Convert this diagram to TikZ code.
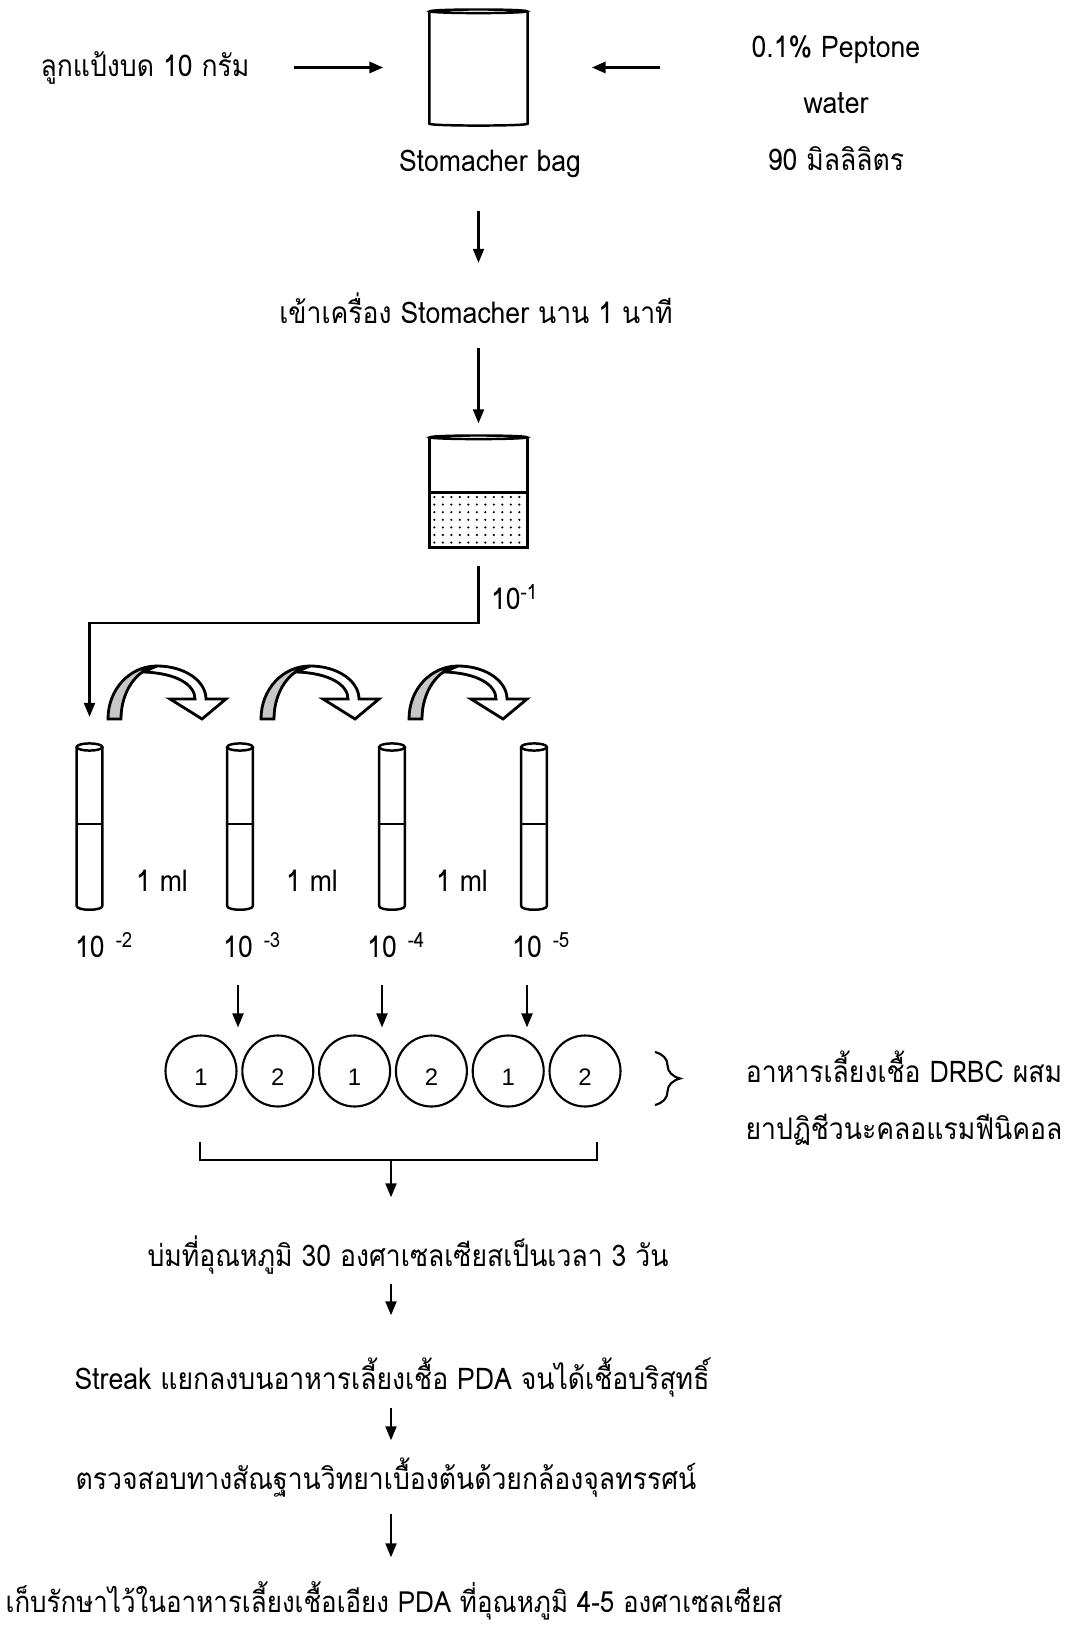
\documentclass[tikz,border=0pt]{standalone}
\usepackage{fontspec}
\setmainfont{Loma}[Script=Thai, FakeStretch=0.89]
\newfontfamily\digitfont{Liberation Sans}
\usetikzlibrary{arrows.meta, calc, decorations.pathreplacing}

\tikzset{
    % test tube, origin at the centre of the rim
    tube/.pic={
        \draw[line width=0.7pt] (-12.8,0) -- (-12.8,159) .. controls +(0,5) and +(0,5) .. (12.8,159) -- (12.8,0);
        \draw[line width=0.7pt] (0,0) ellipse [x radius=12.8, y radius=3.6];
        \draw[line width=0.6pt] (-12.8,77) -- (12.8,77);
        \coordinate (-top) at (0,-3.6);
    },
    % bent transfer arrow, origin at the foot of the arc
    transfer/.pic={
        \filldraw[fill=white, line width=0.8pt, line join=miter]
            (0,-53) .. controls (27.6,-53) and (49,-38) .. (49,-20) -- (69,-20) -- (45,0) -- (13,-20) -- (38,-20)
            .. controls (38,-34) and (20,-46) .. (-14,-47) -- cycle;
        \filldraw[fill=black!22, line width=0.8pt]
            (-49,0) .. controls (-49,-30) and (-27,-53) .. (0,-53)
            .. controls (-20,-50) and (-36,-28) .. (-36,0) -- cycle;
    }
}

\begin{document}
\begin{tikzpicture}[
    x=0.1mm, y=-0.1mm,
    font=\fontsize{8.5}{16}\selectfont,
    txt/.style={inner sep=0pt, text height=1.5mm, text depth=0.4mm},
    multi/.style={inner sep=0pt, align=center},
    arr/.style={-{Triangle[length=1.4mm, width=1.1mm]}, line width=0.6pt},
    outline/.style={line width=0.7pt},
    dish/.style={circle, draw, line width=0.6pt, minimum size=7.1mm, inner sep=0pt,
        text height=2.9mm, text depth=0pt, font=\digitfont\fontsize{6.8}{8}\selectfont}
]
\useasboundingbox (0,0) rectangle (1079,1625);

% ---- mixing step
\node[txt] (seed) at (145,71) {ลูกแป้งบด 10 กรัม};
\node[inner sep=0pt, minimum width=9.7mm, minimum height=11.1mm] (bag) at (478.5,67.5) {};
\draw[outline] (bag.north west) -- (bag.south west) .. controls +(0,2.5) and +(0,2.5) .. (bag.south east) -- (bag.north east);
\draw[outline] (bag.north) ellipse [x radius=48.5, y radius=1.8];
\node[multi] (pep) at (836,103) {0.1\% Peptone\\ water\\ 90 มิลลิลิตร};
\node[txt] (baglbl) at (490,166) {Stomacher bag};

\draw[arr, line width=0.9pt, shorten <=4.4mm, shorten >=4.6mm] (seed.east |- bag) -- (bag.west);
\draw[arr, line width=0.9pt, shorten <=9.1mm, shorten >=6.4mm] (pep.west |- bag) -- (bag.east);

\node[txt] (mix) at (476,318) {เข้าเครื่อง Stomacher นาน 1 นาที};
\draw[arr, shorten <=3.5mm, shorten >=4.5mm] (bag |- baglbl.south) -- (bag |- mix.north);

% ---- homogenate, 10^-1
\node[inner sep=0pt, minimum width=9.7mm, minimum height=10.9mm] (beaker) at (478.5,492.5) {};
\draw[arr, shorten <=1.95mm, shorten >=1.4mm] (bag |- mix.south) -- (beaker.north);
\foreach \r in {0,...,6}
    \foreach \c in {0,...,10}
        \fill (434.3+8.5*\c, 497+7.6*\r) circle [radius=1.2];
\draw[outline] (beaker.north west) -- (beaker.south west) -- (beaker.south east) -- (beaker.north east);
\draw[outline] (beaker.north) ellipse [x radius=48.5, y radius=1.8];
\draw[line width=0.9pt] (beaker.west) -- (beaker.east);
\node[txt] (dil1) at (515,604) {10\textsuperscript{-1}};

% ---- serial dilution
\pic (t1) at (89.5,747) {tube};
\pic (t2) at (240,747) {tube};
\pic (t3) at (392,747) {tube};
\pic (t4) at (534,747) {tube};
\draw[arr, shorten <=1.8mm, shorten >=2.65mm] (beaker.south) -- ++(0,75) -| (t1-top);

\pic at (157,719) {transfer};
\pic at (310,719) {transfer};
\pic at (458,719) {transfer};

\node[txt] (ml1) at (162,886) {1 ml};
\node[txt] (ml2) at (312,886) {1 ml};
\node[txt] (ml3) at (462,886) {1 ml};

\node[txt] (e1) at (90,952) {10\rlap{\hspace{1.1mm}\textsuperscript{-2}}};
\node[txt] (e2) at (238,952) {10\rlap{\hspace{1.1mm}\textsuperscript{-3}}};
\node[txt] (e3) at (382,952) {10\rlap{\hspace{1.1mm}\textsuperscript{-4}}};
\node[txt] (e4) at (527,952) {10\rlap{\hspace{1.1mm}\textsuperscript{-5}}};

% ---- spread plates, two per dilution
\foreach \t [count=\i] in {1,2,1,2,1,2}
    \node[dish] (d\i) at (124.2+76.8*\i,1071) {\t};
\foreach \e in {e2,e3,e4}
    \draw[arr, shorten <=2.3mm, shorten >=0.7mm] (\e.south) -- (\e.south |- d1.north);

\draw[line width=0.6pt, decorate, decoration={brace, amplitude=2.5mm}] (655,1052) -- (655,1105);
\node[multi, font=\fontsize{8.5}{16.2}\selectfont] (drbc) at (904,1098)
    {อาหารเลี้ยงเชื้อ DRBC ผสม\\ ยาปฏิชีวนะคลอแรมฟีนิคอล};

\coordinate (bl) at (200,1160);
\coordinate (br) at (597,1160);
\coordinate (bm) at (391,1160);
\draw[line width=0.6pt] (bl) ++(0,-18) -- (bl) -- (br) -- ++(0,-18);

% ---- incubation and isolation
\node[txt] (incub) at (408,1261) {บ่มที่อุณหภูมิ 30 องศาเซลเซียสเป็นเวลา 3 วัน};
\node[txt] (streak) at (392,1384) {Streak แยกลงบนอาหารเลี้ยงเชื้อ PDA จนได้เชื้อบริสุทธิ์};
\node[txt] (morph) at (386,1484) {ตรวจสอบทางสัณฐานวิทยาเบื้องต้นด้วยกล้องจุลทรรศน์};
\node[txt, font=\fontsize{8.3}{16}\selectfont] (store) at (394,1607) {เก็บรักษาไว้ในอาหารเลี้ยงเชื้อเอียง PDA ที่อุณหภูมิ 4-5 องศาเซลเซียส};

\draw[arr, shorten >=5.35mm] (bm) -- (bm |- incub.north);
\draw[arr, shorten <=1.25mm, shorten >=5.85mm] (bm |- incub.south) -- (bm |- streak.north);
\draw[arr, shorten <=1.35mm, shorten >=3.35mm] (bm |- streak.south) -- (bm |- morph.north);
\draw[arr, shorten <=1.95mm, shorten >=3.95mm] (bm |- morph.south) -- (bm |- store.north);
\end{tikzpicture}
\end{document}
